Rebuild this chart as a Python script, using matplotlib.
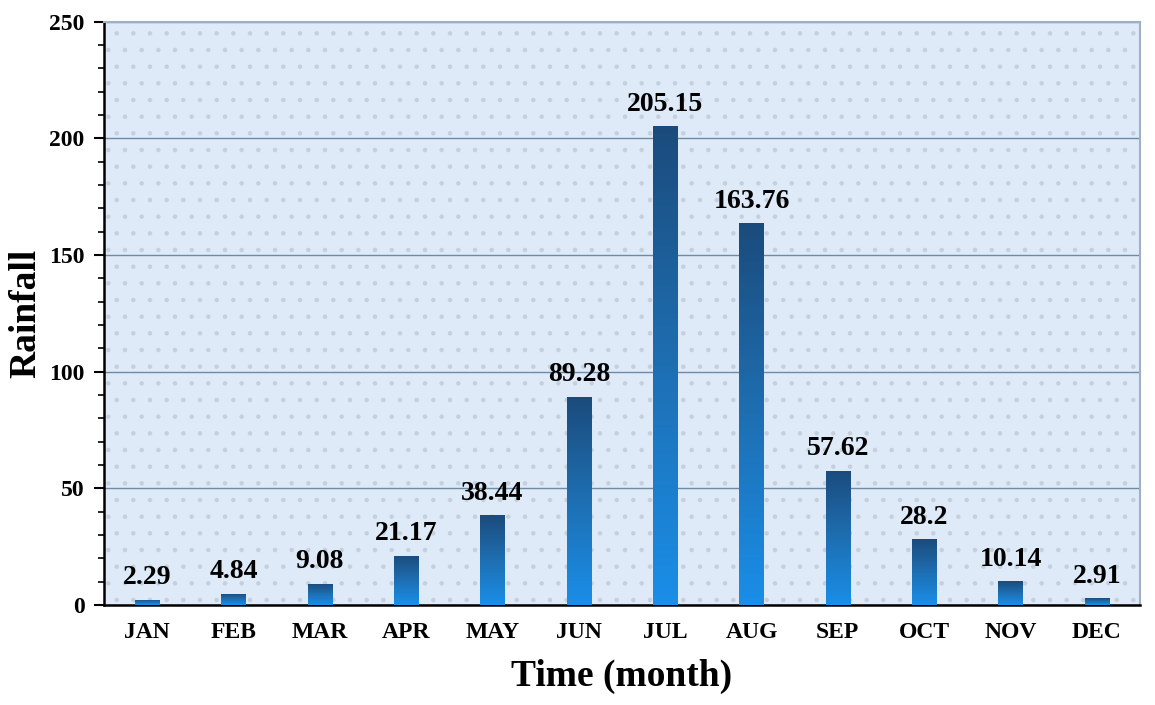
#! /usr/bin/env python3

import numpy as np
import matplotlib
matplotlib.use("Agg")
import matplotlib.pyplot as plt
from matplotlib.colors import LinearSegmentedColormap
from matplotlib.patches import Rectangle

months = ["JAN", "FEB", "MAR", "APR", "MAY", "JUN", "JUL", "AUG", "SEP", "OCT", "NOV", "DEC"]
rainfall = [2.29, 4.84, 9.08, 21.17, 38.44, 89.28, 205.15, 163.76, 57.62, 28.2, 10.14, 2.91]
labels = ["2.29", "4.84", "9.08", "21.17", "38.44", "89.28", "205.15", "163.76", "57.62", "28.2", "10.14", "2.91"]

plt.rcParams["font.family"] = ["Liberation Serif", "DejaVu Serif"]
plt.rcParams["hatch.linewidth"] = 0.8

fig = plt.figure(figsize=(11.55, 7.05), dpi=100)
ax = fig.add_axes([0.090, 0.142, 0.897, 0.827])

# light blue background with a faint dotted texture
ax.set_facecolor("#deeaf7")
ax.add_patch(Rectangle((0, 0), 1, 1, transform=ax.transAxes, facecolor="none",
                       edgecolor="#c6d0dc", hatch=".", linewidth=0, zorder=0))

# bright at the bottom, dark at the top
cmap = LinearSegmentedColormap.from_list("bar", ["#1a8ee8", "#1e6fb2", "#1b4b7c"])
grad = np.linspace(0, 1, 256).reshape(-1, 1)
width = 0.28

bars = ax.bar(range(len(months)), rainfall, width=width, color="none", edgecolor="none", zorder=3)
for bar in bars:
    x0, y0 = bar.get_x(), bar.get_y()
    w, h = bar.get_width(), bar.get_height()
    im = ax.imshow(grad, cmap=cmap, aspect="auto", extent=[x0, x0 + w, y0, y0 + h],
                   origin="lower", zorder=3)
    im.set_clip_path(bar)
ax.set_xlim(-0.5, 11.5)
ax.set_ylim(0, 250)

for i, (v, t) in enumerate(zip(rainfall, labels)):
    ax.text(i, v + 4, t, ha="center", va="bottom", fontsize=20, fontweight="bold", zorder=4)

ax.set_yticks([0, 50, 100, 150, 200, 250])
ax.set_yticks(np.arange(0, 251, 10), minor=True)
ax.yaxis.grid(True, color="#6f8aa6", linewidth=1.0, zorder=1)
ax.set_axisbelow(True)

ax.set_xticks(range(len(months)))
ax.set_xticklabels(months)
ax.tick_params(axis="x", direction="in", length=3, width=1, pad=12, labelsize=17)
ax.tick_params(axis="y", which="major", direction="out", length=7, width=1.5, pad=7, labelsize=17)
ax.tick_params(axis="y", which="minor", direction="out", length=4, width=1.2)
for lab in ax.get_xticklabels() + ax.get_yticklabels():
    lab.set_fontweight("bold")

for side in ["left", "bottom"]:
    ax.spines[side].set_linewidth(1.8)
    ax.spines[side].set_color("black")
for side in ["top", "right"]:
    ax.spines[side].set_color("#9fb0c2")
    ax.spines[side].set_linewidth(1.5)

ax.set_ylabel("Rainfall", fontsize=27, fontweight="bold", labelpad=4)
ax.set_xlabel("Time (month)", fontsize=27, fontweight="bold", labelpad=12)

fig.savefig("out.png")
